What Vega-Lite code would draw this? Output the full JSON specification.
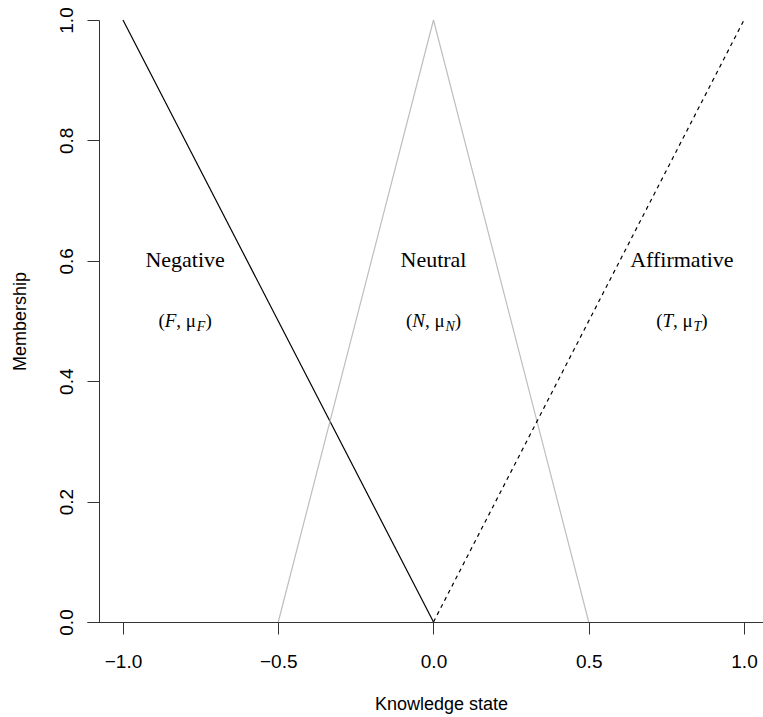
{
  "$schema": "https://vega.github.io/schema/vega-lite/v6.json",
  "width": 676,
  "height": 602,
  "autosize": {"type": "none"},
  "padding": {"left": 87, "top": 20, "right": 0, "bottom": 95},
  "background": "white",
  "config": {"view": {"stroke": null}, "axis": {"grid": false}},
  "datasets": {
    "curves": [
      {"series": "Negative", "x": -1, "y": 1},
      {"series": "Negative", "x": 0, "y": 0},
      {"series": "Neutral", "x": -0.5, "y": 0},
      {"series": "Neutral", "x": 0, "y": 1},
      {"series": "Neutral", "x": 0.5, "y": 0},
      {"series": "Affirmative", "x": 0, "y": 0},
      {"series": "Affirmative", "x": 1, "y": 1}
    ],
    "heads": [
      {"label": "Negative", "x": -0.8, "y": 0.59},
      {"label": "Neutral", "x": 0, "y": 0.59},
      {"label": "Affirmative", "x": 0.8, "y": 0.59}
    ],
    "pieces": [
      {"part": "(", "x": -0.8858, "y": 0.49, "style": "normal"},
      {"part": "F", "x": -0.8655, "y": 0.49, "style": "italic"},
      {"part": ", μ", "x": -0.8282, "y": 0.49, "style": "normal"},
      {"part": "F", "x": -0.7622, "y": 0.49, "style": "sub"},
      {"part": ")", "x": -0.7345, "y": 0.49, "style": "normal"},
      {"part": "(", "x": -0.0887, "y": 0.49, "style": "normal"},
      {"part": "N", "x": -0.0684, "y": 0.49, "style": "italic"},
      {"part": ", μ", "x": -0.0275, "y": 0.49, "style": "normal"},
      {"part": "N", "x": 0.0385, "y": 0.49, "style": "sub"},
      {"part": ")", "x": 0.0684, "y": 0.49, "style": "normal"},
      {"part": "(", "x": 0.7171, "y": 0.49, "style": "normal"},
      {"part": "T", "x": 0.7374, "y": 0.49, "style": "italic"},
      {"part": ", μ", "x": 0.7715, "y": 0.49, "style": "normal"},
      {"part": "T", "x": 0.8375, "y": 0.49, "style": "sub"},
      {"part": ")", "x": 0.8626, "y": 0.49, "style": "normal"}
    ]
  },
  "encoding": {
    "x": {
      "field": "x",
      "type": "quantitative",
      "scale": {"domain": [-1.1159, 1.0612], "nice": false, "zero": false},
      "axis": {
        "title": "Knowledge state",
        "values": [-1, -0.5, 0, 0.5, 1],
        "format": ".1f",
        "tickSize": 12,
        "tickColor": "#333333",
        "domainColor": "#333333",
        "labelPadding": 18,
        "labelFontSize": 19,
        "labelFont": "Liberation Sans",
        "labelColor": "black",
        "labelBaseline": "top",
        "labelFlush": false,
        "labelOverlap": false,
        "titleFont": "Liberation Sans",
        "titleFontSize": 18,
        "titleFontWeight": "normal",
        "titleColor": "black",
        "titleX": 354,
        "titleY": 87,
        "titleAlign": "center",
        "titleBaseline": "alphabetic"
      }
    },
    "y": {
      "field": "y",
      "type": "quantitative",
      "scale": {"domain": [0, 1], "nice": false, "zero": false},
      "axis": {
        "title": "Membership",
        "values": [0, 0.2, 0.4, 0.6, 0.8, 1],
        "format": ".1f",
        "offset": -12,
        "tickSize": 12,
        "tickColor": "#333333",
        "domainColor": "#333333",
        "labelAngle": 270,
        "labelAlign": "center",
        "labelBaseline": "alphabetic",
        "labelPadding": 15,
        "labelFontSize": 19,
        "labelFont": "Liberation Sans",
        "labelColor": "black",
        "labelFlush": false,
        "labelOverlap": false,
        "titleFont": "Liberation Sans",
        "titleFontSize": 18,
        "titleFontWeight": "normal",
        "titleColor": "black",
        "titleAngle": 270,
        "titleX": -74,
        "titleY": 301,
        "titleAlign": "center",
        "titleBaseline": "alphabetic"
      }
    }
  },
  "layer": [
    {
      "data": {"name": "curves"},
      "transform": [{"filter": "datum.series === 'Negative'"}],
      "mark": {"type": "line", "color": "black", "strokeWidth": 1.2}
    },
    {
      "data": {"name": "curves"},
      "transform": [{"filter": "datum.series === 'Neutral'"}],
      "mark": {"type": "line", "color": "#bebebe", "strokeWidth": 1.2}
    },
    {
      "data": {"name": "curves"},
      "transform": [{"filter": "datum.series === 'Affirmative'"}],
      "mark": {"type": "line", "color": "black", "strokeWidth": 1.2, "strokeDash": [4, 4]}
    },
    {
      "data": {"name": "heads"},
      "mark": {"type": "text", "font": "Liberation Serif", "fontSize": 22, "align": "center", "baseline": "alphabetic", "color": "black"},
      "encoding": {"text": {"field": "label"}}
    },
    {
      "data": {"name": "pieces"},
      "transform": [{"filter": "datum.style === 'normal'"}],
      "mark": {"type": "text", "font": "Liberation Serif", "fontSize": 19, "align": "left", "baseline": "alphabetic", "color": "black"},
      "encoding": {"text": {"field": "part"}}
    },
    {
      "data": {"name": "pieces"},
      "transform": [{"filter": "datum.style === 'italic'"}],
      "mark": {"type": "text", "font": "Liberation Serif", "fontSize": 19, "fontStyle": "italic", "align": "left", "baseline": "alphabetic", "color": "black"},
      "encoding": {"text": {"field": "part"}}
    },
    {
      "data": {"name": "pieces"},
      "transform": [{"filter": "datum.style === 'sub'"}],
      "mark": {"type": "text", "font": "Liberation Serif", "fontSize": 14, "fontStyle": "italic", "align": "left", "baseline": "alphabetic", "dy": 4, "color": "black"},
      "encoding": {"text": {"field": "part"}}
    }
  ]
}
